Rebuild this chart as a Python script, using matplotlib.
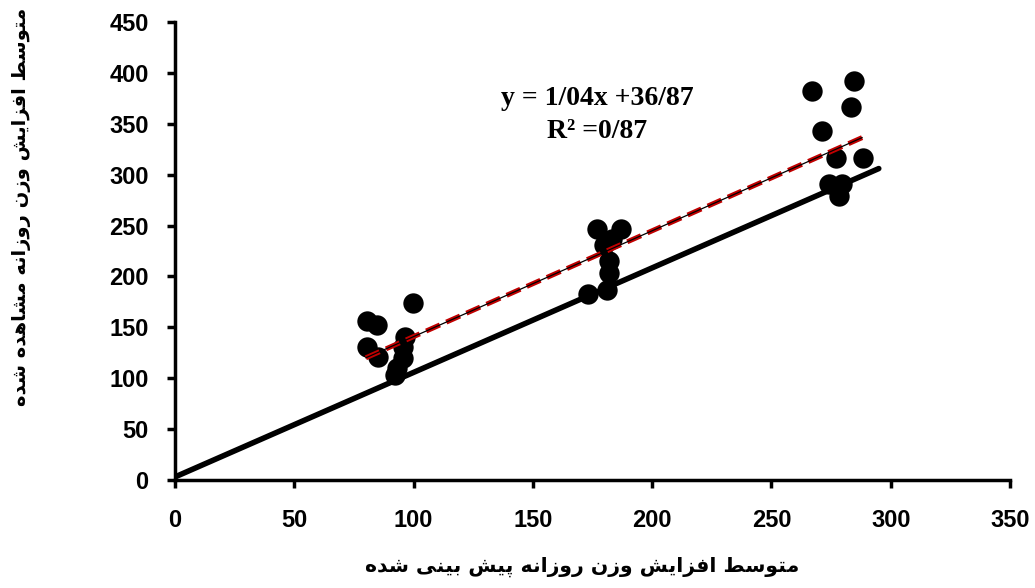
import matplotlib
matplotlib.use("Agg")
import matplotlib.pyplot as plt

# ---------------- data ----------------
pred_x = [80.6, 84.5, 80.6, 85.0, 99.6, 96.4, 95.4, 95.7, 92.9, 92.2,
          177.0, 187.0, 180.0, 183.0, 182.0, 182.0, 181.0, 173.0,
          267.2, 284.5, 283.2, 271.4, 276.9, 288.2, 274.0, 279.4, 278.2]
obs_y = [156.5, 152.3, 131.0, 121.0, 173.6, 140.8, 131.0, 119.6, 109.7, 103.0,
         247.0, 247.0, 231.0, 237.0, 215.0, 203.0, 187.0, 183.0,
         382.6, 392.4, 366.0, 342.5, 316.0, 316.0, 290.6, 290.6, 278.9]
ref_x = [0, 295]
ref_y = [3, 306]
trend_x = [80, 288]
slope, intercept = 1.04, 36.87
xticks = [0, 50, 100, 150, 200, 250, 300, 350]
yticks = [0, 50, 100, 150, 200, 250, 300, 350, 400, 450]
eq_text = "y = 1/04x +36/87"
r2_text = "R\u00b2 =0/87"
xlabel_fa = "متوسط افزایش وزن روزانه پیش بینی شده"
ylabel_fa = "متوسط افزایش وزن روزانه مشاهده شده"

# ---------------- simple Persian shaping ----------------
FORMS = {  # isolated, final, initial, medial
    '\u0627': ('\uFE8D', '\uFE8E', None, None),
    '\u0628': ('\uFE8F', '\uFE90', '\uFE91', '\uFE92'),
    '\u062A': ('\uFE95', '\uFE96', '\uFE97', '\uFE98'),
    '\u062F': ('\uFEA9', '\uFEAA', None, None),
    '\u0631': ('\uFEAD', '\uFEAE', None, None),
    '\u0632': ('\uFEAF', '\uFEB0', None, None),
    '\u0633': ('\uFEB1', '\uFEB2', '\uFEB3', '\uFEB4'),
    '\u0634': ('\uFEB5', '\uFEB6', '\uFEB7', '\uFEB8'),
    '\u0637': ('\uFEC1', '\uFEC2', '\uFEC3', '\uFEC4'),
    '\u0641': ('\uFED1', '\uFED2', '\uFED3', '\uFED4'),
    '\u0645': ('\uFEE1', '\uFEE2', '\uFEE3', '\uFEE4'),
    '\u0646': ('\uFEE5', '\uFEE6', '\uFEE7', '\uFEE8'),
    '\u0647': ('\uFEE9', '\uFEEA', '\uFEEB', '\uFEEC'),
    '\u0648': ('\uFEED', '\uFEEE', None, None),
    '\u06CC': ('\uFBFC', '\uFBFD', '\uFBFE', '\uFBFF'),
    '\u067E': ('\uFB56', '\uFB57', '\uFB58', '\uFB59'),
}


def shape(text):
    out = []
    n = len(text)
    for i, ch in enumerate(text):
        if ch not in FORMS:
            out.append(ch)
            continue
        prev = text[i - 1] if i > 0 else None
        nxt = text[i + 1] if i < n - 1 else None
        join_prev = prev in FORMS and FORMS[prev][2] is not None
        join_next = nxt in FORMS and FORMS[ch][2] is not None
        iso, fin, ini, med = FORMS[ch]
        if join_prev and join_next:
            out.append(med)
        elif join_prev:
            out.append(fin)
        elif join_next:
            out.append(ini)
        else:
            out.append(iso)
    return ''.join(out)[::-1]


# ---------------- figure ----------------
fig = plt.figure(figsize=(10.35, 5.88), dpi=100)
ax = fig.add_axes([175 / 1035, 108 / 588, 835 / 1035, 458 / 588])

ax.plot(ref_x, ref_y, color='black', lw=4, solid_capstyle='round', zorder=2)
ax.scatter(pred_x, obs_y, s=215, color='black', zorder=3, linewidths=0)
ty = [slope * v + intercept for v in trend_x]
ax.plot(trend_x, ty, color='#c00000', lw=3.6, ls=(0, (3, 1.4)), zorder=4)
ax.plot(trend_x, ty, color='black', lw=0.9, zorder=5)

ax.set_xlim(0, 350)
ax.set_ylim(0, 450)
ax.set_xticks(xticks)
ax.set_yticks(yticks)
for s in ['top', 'right']:
    ax.spines[s].set_visible(False)
for s in ['left', 'bottom']:
    ax.spines[s].set_linewidth(2.5)
ax.tick_params(axis='both', direction='out', length=6, width=2.5, pad=13)
ax.tick_params(axis='x', pad=15)
for lab in ax.get_xticklabels() + ax.get_yticklabels():
    lab.set_fontfamily('Liberation Sans')
    lab.set_fontweight('bold')
    lab.set_fontsize(17)

ax.text(177, 375, eq_text, fontsize=20, fontweight='bold',
        family='Liberation Serif', ha='center', va='center')
ax.text(177, 342, r2_text, fontsize=20, fontweight='bold',
        family='Liberation Serif', ha='center', va='center')

fig.text(582 / 1035, 1 - 567 / 588, shape(xlabel_fa), fontsize=14.7,
         fontweight='bold', family=['DejaVu Sans'], ha='center', va='center')
fig.text(22 / 1035, 1 - 207 / 588, shape(ylabel_fa), fontsize=14,
         fontweight='bold', family=['DejaVu Sans'], ha='center', va='center',
         rotation=90)

fig.savefig('out.png', dpi=100)
